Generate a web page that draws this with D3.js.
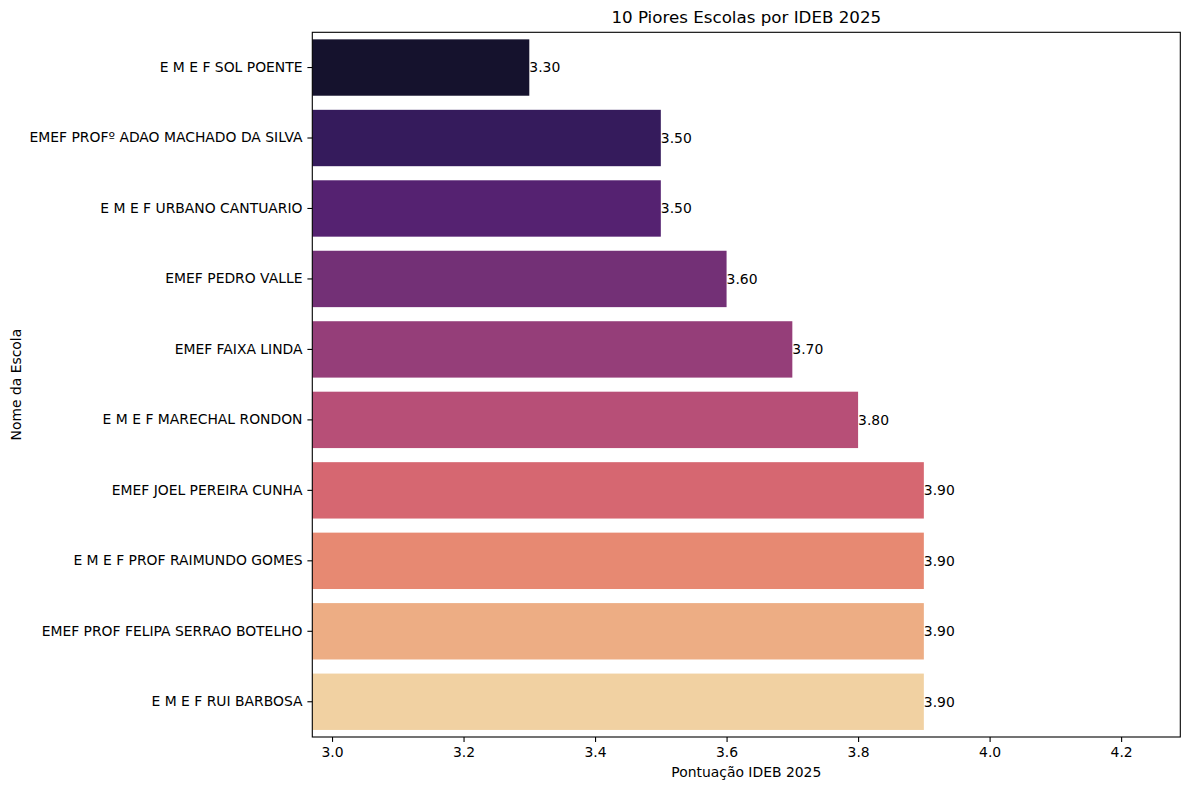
<!DOCTYPE html>
<html>
<head>
<meta charset="utf-8">
<title>10 Piores Escolas por IDEB 2025</title>
<style>
  body { margin: 0; background: #fff; }
  svg { font-family: "DejaVu Sans", sans-serif; }
</style>
<script src="https://d3js.org/d3.v7.min.js"></script>
</head>
<body>
<svg id="chart" width="1189" height="790"></svg>
<script>
// dados
var escolas = [
  "E M E F SOL POENTE",
  "EMEF PROFº ADAO MACHADO DA SILVA",
  "E M E F URBANO CANTUARIO",
  "EMEF PEDRO VALLE",
  "EMEF FAIXA LINDA",
  "E M E F MARECHAL RONDON",
  "EMEF JOEL PEREIRA CUNHA",
  "E M E F PROF RAIMUNDO GOMES",
  "EMEF PROF FELIPA SERRAO BOTELHO",
  "E M E F RUI BARBOSA"
];
var notas = [3.30, 3.50, 3.50, 3.60, 3.70, 3.80, 3.90, 3.90, 3.90, 3.90];
var xTicks = [3.0, 3.2, 3.4, 3.6, 3.8, 4.0, 4.2];

var svg = d3.select("#chart");
// (nao usar "top": conflita com window.top)
var plotL = 312.3, plotR = 1180.3, plotT = 32.3, plotB = 737;

var x = d3.scaleLinear()
  .domain([d3.min(notas) * 0.9, d3.max(notas) * 1.1])
  .range([plotL, plotR]);

var y = d3.scaleBand()
  .domain(escolas)
  .range([plotT, plotB])
  .paddingInner(0.2)
  .paddingOuter(0.1);

// paleta magma dessaturada (como o seaborn)
function cor(i) {
  var c = d3.hsl(d3.interpolateMagma((i + 1) / (escolas.length + 1)));
  c.s = c.s * 0.75;
  return c.formatHex();
}

svg.append("g")
  .selectAll("rect")
  .data(escolas)
  .enter()
  .append("rect")
  .attr("x", plotL)
  .attr("y", d => y(d))
  .attr("width", (d, i) => x(notas[i]) - plotL)
  .attr("height", y.bandwidth())
  .attr("fill", (d, i) => cor(i));

svg.append("g")
  .selectAll("text")
  .data(escolas)
  .enter()
  .append("text")
  .attr("x", (d, i) => x(notas[i]))
  .attr("y", d => y(d) + y.bandwidth() / 2)
  .attr("dy", "0.35em")
  .attr("font-size", "13.9px")
  .attr("fill", "#000")
  .text((d, i) => notas[i].toFixed(2));

// eixos
var xAxis = svg.append("g")
  .attr("transform", "translate(0," + plotB + ")")
  .call(d3.axisBottom(x).tickValues(xTicks).tickFormat(d3.format(".1f")).tickSize(4.9).tickPadding(4.9));
xAxis.select(".domain").remove();
xAxis.selectAll("text").attr("font-size", "13.9px").attr("fill", "#000").attr("font-family", "DejaVu Sans");
xAxis.selectAll("line").attr("stroke", "#000").attr("stroke-width", 1.1);

var yAxis = svg.append("g")
  .attr("transform", "translate(" + plotL + ",0)")
  .call(d3.axisLeft(y).tickSize(4.9).tickPadding(4.9));
yAxis.select(".domain").remove();
yAxis.selectAll("text").attr("font-size", "13.9px").attr("fill", "#000").attr("font-family", "DejaVu Sans");
yAxis.selectAll("line").attr("stroke", "#000").attr("stroke-width", 1.1);

// moldura
svg.append("rect")
  .attr("x", plotL).attr("y", plotT)
  .attr("width", plotR - plotL).attr("height", plotB - plotT)
  .attr("fill", "none").attr("stroke", "#000").attr("stroke-width", 1.1);

// textos
svg.append("text")
  .attr("x", (plotL + plotR) / 2).attr("y", 23)
  .attr("text-anchor", "middle")
  .attr("font-size", "16.7px")
  .text("10 Piores Escolas por IDEB 2025");

svg.append("text")
  .attr("x", (plotL + plotR) / 2).attr("y", 777)
  .attr("text-anchor", "middle")
  .attr("font-size", "13.9px")
  .text("Pontuação IDEB 2025");

svg.append("text")
  .attr("transform", "translate(21," + (plotT + plotB) / 2 + ") rotate(-90)")
  .attr("text-anchor", "middle")
  .attr("font-size", "13.9px")
  .text("Nome da Escola");
</script>
</body>
</html>
